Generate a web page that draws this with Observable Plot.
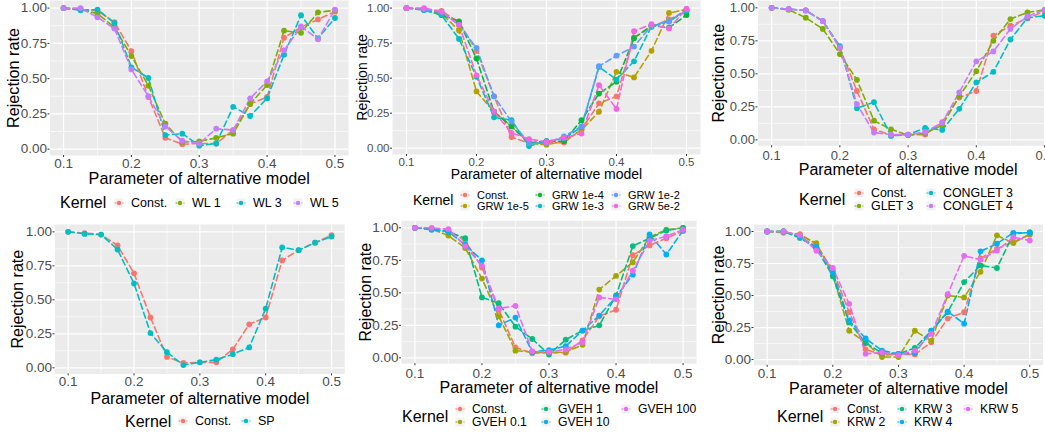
<!DOCTYPE html>
<html><head><meta charset="utf-8">
<script src="https://cdn.jsdelivr.net/npm/d3@7"></script>
<script src="https://cdn.jsdelivr.net/npm/@observablehq/plot@0.6"></script>
<style>
html,body{margin:0;padding:0;overflow:hidden;background:#fff;}
#root{position:relative;width:1045px;height:434px;overflow:hidden;font-family:"Liberation Sans",Arial,sans-serif;}
.panel{position:absolute;}
.panel svg{position:absolute;left:0;top:0;overflow:visible;}
.lt{position:absolute;white-space:nowrap;color:#000;line-height:1;transform:translateY(-50%);}
.le{position:absolute;white-space:nowrap;color:#000;line-height:1;transform:translateY(-50%);}
.lk{position:absolute;transform:translate(-50%,-50%);}
</style>
</head><body><div id="root"></div>
<script>
// ---------- data ----------
const xParam = [0.1,0.125,0.15,0.175,0.2,0.225,0.25,0.275,0.3,0.325,0.35,0.375,0.4,0.425,0.45,0.475,0.5];
const xTicks = [0.1,0.2,0.3,0.4,0.5];
const xMinor = [0.15,0.25,0.35,0.45];
const yTicks = [0,0.25,0.5,0.75,1];
const yMinor = [0.125,0.375,0.625,0.875];

const constRate = [1.00,0.99,0.98,0.90,0.695,0.37,0.08,0.035,0.04,0.04,0.135,0.32,0.37,0.79,0.865,0.92,0.975];
// WL panel
const wl1 = [1.00,0.99,0.96,0.865,0.66,0.45,0.18,0.05,0.055,0.08,0.11,0.32,0.455,0.84,0.825,0.97,0.985];
const wl3 = [1.00,0.985,0.99,0.895,0.58,0.505,0.10,0.11,0.025,0.04,0.30,0.235,0.36,0.67,0.95,0.785,0.93];
const wl5 = [1.00,1.00,0.935,0.855,0.565,0.375,0.16,0.06,0.04,0.145,0.135,0.36,0.48,0.70,0.87,0.78,0.99];
// GRW panel
const grw1e5 = [1.00,0.99,0.96,0.84,0.405,0.26,0.155,0.035,0.025,0.05,0.13,0.26,0.545,0.505,0.695,0.965,0.99];
const grw1e4 = [1.00,0.99,0.95,0.905,0.64,0.26,0.155,0.04,0.05,0.05,0.20,0.39,0.475,0.785,0.875,0.86,0.95];
const grw1e3 = [1.00,0.985,0.95,0.78,0.51,0.22,0.20,0.015,0.05,0.07,0.15,0.58,0.49,0.62,0.87,0.905,0.98];
const grw1e2 = [1.00,0.99,0.97,0.88,0.715,0.37,0.19,0.035,0.035,0.085,0.155,0.585,0.66,0.725,0.875,0.905,0.99];
const grw5e2 = [1.00,1.00,0.975,0.88,0.52,0.26,0.11,0.065,0.045,0.075,0.105,0.45,0.28,0.835,0.885,0.855,0.995];
// GLET panel
const glet3 = [1.00,0.985,0.925,0.84,0.65,0.455,0.145,0.08,0.035,0.05,0.11,0.33,0.52,0.75,0.915,0.965,0.985];
const conglet3 = [1.00,0.99,0.98,0.90,0.71,0.24,0.285,0.03,0.04,0.09,0.075,0.235,0.435,0.515,0.76,0.925,0.94];
const conglet4 = [1.00,0.99,0.98,0.90,0.70,0.27,0.055,0.04,0.04,0.06,0.13,0.36,0.595,0.67,0.84,0.935,0.985];
// SP panel
const sp = [1.00,0.985,0.98,0.87,0.62,0.255,0.115,0.02,0.04,0.06,0.10,0.15,0.435,0.885,0.865,0.92,0.965];
// GVEH panel
const gveh01 = [1.00,0.99,0.94,0.845,0.61,0.32,0.055,0.045,0.04,0.045,0.10,0.525,0.63,0.735,0.93,0.985,1.00];
const gveh1 = [1.00,0.99,0.97,0.92,0.465,0.42,0.24,0.145,0.025,0.14,0.21,0.25,0.48,0.86,0.92,0.98,1.00];
const gveh10 = [1.00,0.985,0.97,0.87,0.75,0.25,0.31,0.045,0.06,0.09,0.21,0.325,0.47,0.64,0.95,0.795,0.98];
const gveh100 = [1.00,1.00,0.99,0.86,0.71,0.38,0.40,0.05,0.045,0.065,0.12,0.465,0.45,0.67,0.90,0.935,0.985];
// KRW panel
const krw2 = [1.00,1.00,0.97,0.91,0.66,0.225,0.13,0.02,0.02,0.225,0.145,0.50,0.485,0.685,0.97,0.91,0.98];
const krw3 = [1.00,1.00,0.95,0.87,0.65,0.29,0.13,0.05,0.045,0.09,0.225,0.37,0.605,0.735,0.715,0.98,0.995];
const krw4 = [1.00,1.00,0.96,0.88,0.68,0.305,0.165,0.07,0.045,0.05,0.225,0.375,0.28,0.845,0.905,0.99,0.99];
const krw5 = [1.00,1.00,0.97,0.85,0.715,0.435,0.045,0.055,0.035,0.07,0.20,0.51,0.81,0.78,0.85,0.955,0.93];

const wlKernels = ["Const.","WL 1","WL 3","WL 5"];
const grwKernels = ["Const.","GRW 1e-5","GRW 1e-4","GRW 1e-3","GRW 1e-2","GRW 5e-2"];
const gletKernels = ["Const.","GLET 3","CONGLET 3","CONGLET 4"];
const spKernels = ["Const.","SP"];
const gvehKernels = ["Const.","GVEH 0.1","GVEH 1","GVEH 10","GVEH 100"];
const krwKernels = ["Const.","KRW 2","KRW 3","KRW 4","KRW 5"];

const hue4 = ["#F8766D","#7CAE00","#00BFC4","#C77CFF"];
const hue6 = ["#F8766D","#B79F00","#00BA38","#00BFC4","#619CFF","#F564E3"];
const hue5 = ["#F8766D","#A3A500","#00BF7D","#00B0F6","#E76BF3"];
const hue2 = ["#F8766D","#00BFC4"];

const xTitle = "Parameter of alternative model";
const yTitle = "Rejection rate";
const legendTitle = "Kernel";

// ---------- layout ----------
const panels = [
  {kernels: wlKernels, values: [constRate,wl1,wl3,wl5], colors: hue4,
   box:{left:0, top:0, w:350, h:190}, m:{l:49.5,r:2,t:0,b:35},
   tick:13.5, title:16.2, tgap:1, xdy:23.5, ydx:-36.5,
   leg:{tx:60, ty:203, tf:16, ef:12.5, keys:[[119,203],[180,203],[241,203],[298,203]]}},
  {kernels: grwKernels, values: [constRate,grw1e5,grw1e4,grw1e3,grw1e2,grw5e2], colors: hue6,
   box:{left:350, top:0, w:350, h:190}, m:{l:42,r:0,t:0,b:36},
   tick:11.5, title:14, tgap:1.5, xdy:20.5, ydx:-30,
   leg:{tx:63, ty:200, tf:14, ef:11, keys:[[115,194.5],[115,206],[190,194.5],[190,206],[266,194.5],[266,206]]}},
  {kernels: gletKernels, values: [constRate,glet3,conglet3,conglet4], colors: hue4,
   box:{left:700, top:0, w:358, h:185}, m:{l:57.5,r:0.3,t:0.2,b:39.7},
   tick:13, title:16, tgap:2.5, xdy:24, ydx:-39.5,
   leg:{tx:99, ty:200, tf:16, ef:12.4, keys:[[159,192.5],[159,205.5],[231,192.5],[231,205.5]]}},
  {kernels: spKernels, values: [constRate,sp], colors: hue2,
   box:{left:0, top:215, w:350, h:195}, m:{l:54.5,r:5.8,t:9,b:36.6},
   tick:13.5, title:16, tgap:1, xdy:24.8, ydx:-37.5,
   leg:{tx:125, ty:206.5, tf:16, ef:12.5, keys:[[183,206],[246,206]]}},
  {kernels: gvehKernels, values: [constRate,gveh01,gveh1,gveh10,gveh100], colors: hue5,
   box:{left:350, top:215, w:350, h:190}, m:{l:51,r:4,t:5.3,b:41.8},
   tick:13.5, title:16, tgap:2.5, xdy:24.5, ydx:-36,
   leg:{tx:52, ty:201.7, tf:16, ef:12.2, keys:[[110,194],[110,207],[196,194],[196,207],[276,194]]}},
  {kernels: krwKernels, values: [constRate,krw2,krw3,krw4,krw5], colors: hue5,
   box:{left:700, top:215, w:345, h:190}, m:{l:53.5,r:2.6,t:9.1,b:40.2},
   tick:13.5, title:16, tgap:1.5, xdy:23.5, ydx:-35.5,
   leg:{tx:77, ty:201.7, tf:16, ef:12.2, keys:[[135,194.3],[135,207.3],[202,194.3],[202,207.3],[268,194.3]]}}
];

const root = document.getElementById("root");
const font = '"Liberation Sans",Arial,sans-serif';

for (const p of panels) {
  const rows = [];
  p.kernels.forEach((k, j) => p.values[j].forEach((v, i) => rows.push({x: xParam[i], y: v, k})));
  const chart = Plot.plot({
    width: p.box.w, height: p.box.h,
    marginLeft: p.m.l, marginRight: p.m.r, marginTop: p.m.t, marginBottom: p.m.b,
    style: {background: "transparent", fontFamily: font, overflow: "visible"},
    x: {domain: [0.08, 0.52]},
    y: {domain: [-0.045, 1.054]},
    color: {domain: p.kernels, range: p.colors},
    marks: [
      Plot.frame({fill: "#EBEBEB", stroke: "none"}),
      Plot.gridX(xMinor, {stroke: "#fff", strokeOpacity: 1, strokeWidth: 0.6}),
      Plot.gridY(yMinor, {stroke: "#fff", strokeOpacity: 1, strokeWidth: 0.6}),
      Plot.gridX(xTicks, {stroke: "#fff", strokeOpacity: 1, strokeWidth: 1.2}),
      Plot.gridY(yTicks, {stroke: "#fff", strokeOpacity: 1, strokeWidth: 1.2}),
      Plot.axisX(xTicks, {tickFormat: d => String(d), fontSize: p.tick, tickSize: 2, tickPadding: p.tgap, stroke: "#333", fill: "#4D4D4D", label: null}),
      Plot.axisY(yTicks, {tickFormat: d3.format(".2f"), fontSize: p.tick, tickSize: 2, tickPadding: 1, stroke: "#333", fill: "#4D4D4D", label: null}),
      Plot.line(rows, {x: "x", y: "y", z: "k", stroke: "k", strokeWidth: 1.6, strokeDasharray: "6,3.5"}),
      Plot.dot(rows, {x: "x", y: "y", fill: "k", r: 2.9}),
      Plot.text([xTitle], {text: d => d, frameAnchor: "bottom", textAnchor: "middle", lineAnchor: "middle", dy: p.xdy, fontSize: p.title, fill: "#000"}),
      Plot.text([yTitle], {text: d => d, frameAnchor: "left", textAnchor: "middle", lineAnchor: "middle", dx: p.ydx, rotate: -90, fontSize: p.title, fill: "#000"})
    ]
  });
  const div = document.createElement("div");
  div.className = "panel";
  div.style.left = p.box.left + "px";
  div.style.top = p.box.top + "px";
  div.style.width = p.box.w + "px";
  div.style.height = "220px";
  div.appendChild(chart);
  // legend
  const t = document.createElement("div");
  t.className = "lt";
  t.textContent = legendTitle;
  t.style.left = p.leg.tx + "px"; t.style.top = p.leg.ty + "px"; t.style.fontSize = p.leg.tf + "px";
  div.appendChild(t);
  p.kernels.forEach((k, j) => {
    const [kx, ky] = p.leg.keys[j];
    const key = document.createElementNS("http://www.w3.org/2000/svg", "svg");
    key.setAttribute("width", 9); key.setAttribute("height", 9);
    key.setAttribute("class", "lk");
    key.style.left = kx + "px"; key.style.top = ky + "px"; key.style.position = "absolute";
    key.innerHTML = `<rect width="9" height="9" fill="#F2F2F2"/><line x1="0" x2="9" y1="4.5" y2="4.5" stroke="${p.colors[j]}" stroke-width="1.2" stroke-dasharray="2,2"/><circle cx="4.5" cy="4.5" r="2.2" fill="${p.colors[j]}"/>`;
    div.appendChild(key);
    const e = document.createElement("div");
    e.className = "le";
    e.textContent = k;
    e.style.left = (kx + 12) + "px"; e.style.top = ky + "px"; e.style.fontSize = p.leg.ef + "px";
    div.appendChild(e);
  });
  root.appendChild(div);
}
</script>
</body></html>
